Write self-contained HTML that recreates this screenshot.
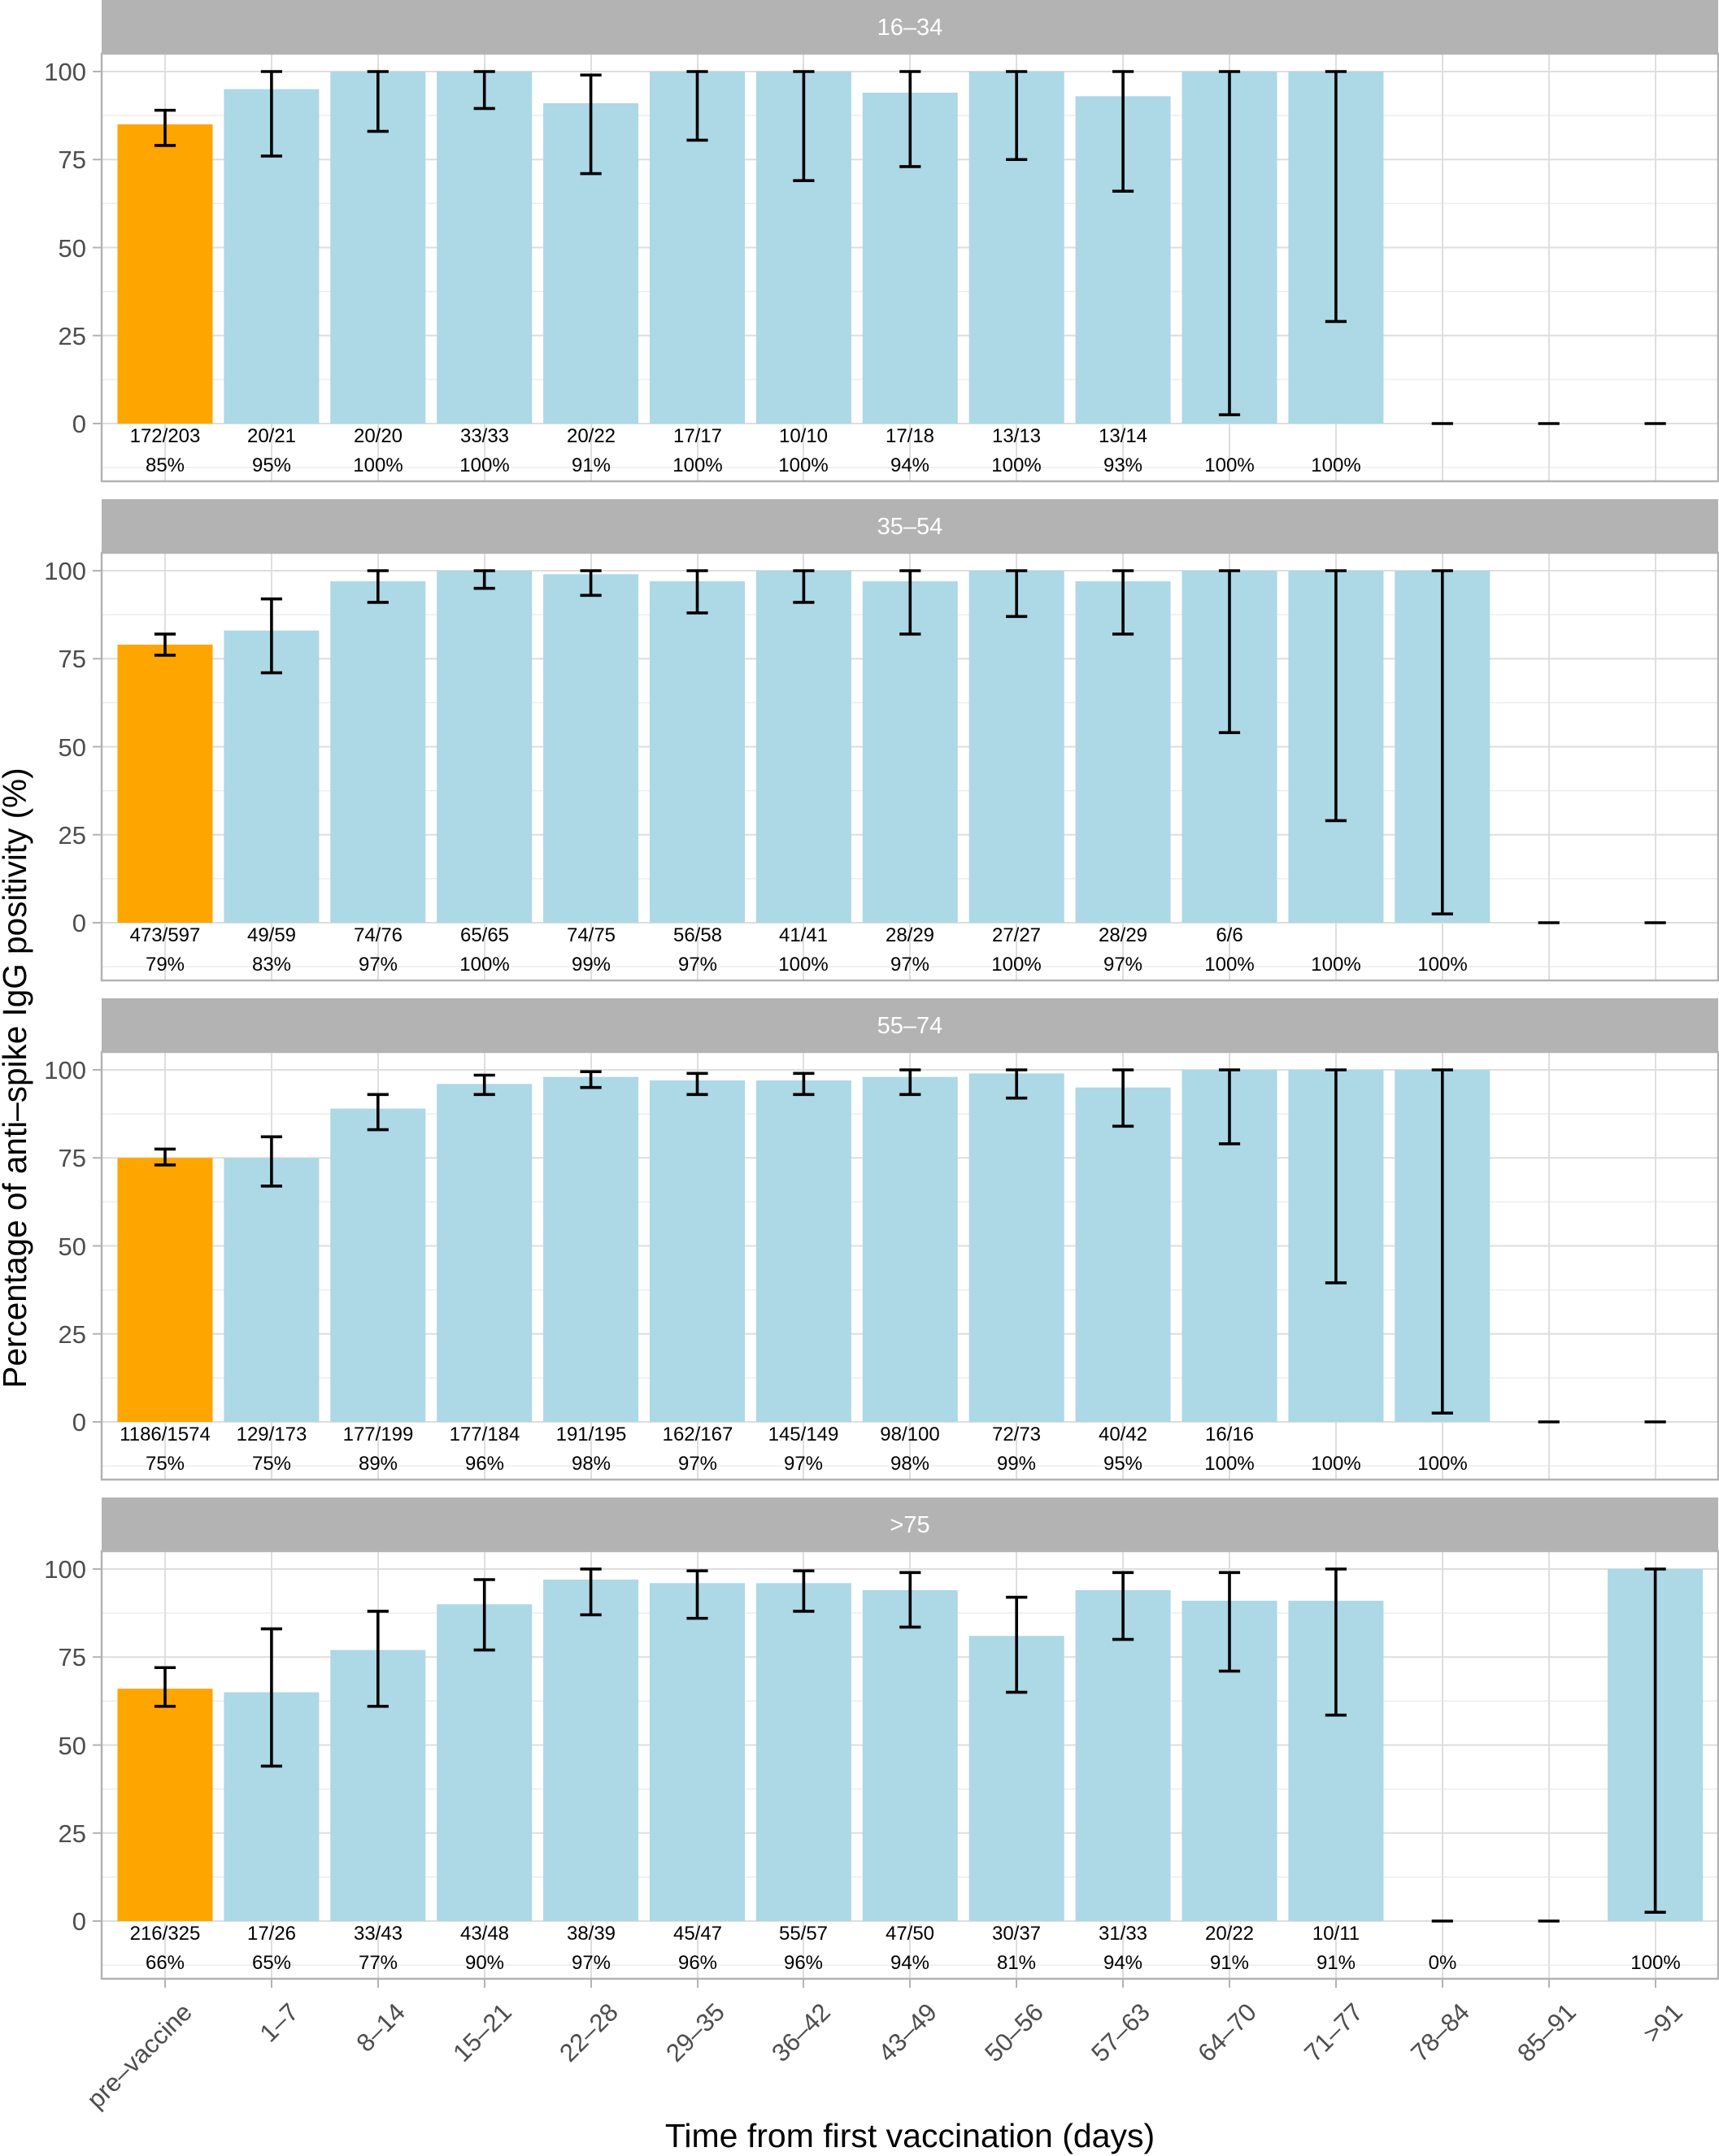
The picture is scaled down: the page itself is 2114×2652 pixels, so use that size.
<!DOCTYPE html>
<html><head><meta charset="utf-8"><style>html,body{margin:0;padding:0;background:#fff}svg{display:block}</style></head><body>
<svg xmlns="http://www.w3.org/2000/svg" width="2114" height="2652" viewBox="0 0 2114 2652" font-family="Liberation Sans, Arial, sans-serif">
<defs>
<g id="frame">
<rect x="125" y="0" width="1988" height="66" fill="#b3b3b3"/>
<rect x="125" y="66" width="1988" height="526" fill="#fff"/>
<g stroke="#ededed" stroke-width="1.5">
<line x1="125" x2="2113" y1="575.1" y2="575.1"/><line x1="125" x2="2113" y1="466.9" y2="466.9"/><line x1="125" x2="2113" y1="358.6" y2="358.6"/><line x1="125" x2="2113" y1="250.4" y2="250.4"/><line x1="125" x2="2113" y1="142.1" y2="142.1"/>
</g>
<g stroke="#dedede" stroke-width="2">
<line x1="125" x2="2113" y1="521" y2="521"/><line x1="125" x2="2113" y1="412.75" y2="412.75"/><line x1="125" x2="2113" y1="304.5" y2="304.5"/><line x1="125" x2="2113" y1="196.25" y2="196.25"/><line x1="125" x2="2113" y1="88" y2="88"/>
<line x1="203" x2="203" y1="66" y2="592"/><line x1="334" x2="334" y1="66" y2="592"/><line x1="465" x2="465" y1="66" y2="592"/><line x1="596" x2="596" y1="66" y2="592"/><line x1="727" x2="727" y1="66" y2="592"/><line x1="858" x2="858" y1="66" y2="592"/><line x1="988" x2="988" y1="66" y2="592"/><line x1="1119" x2="1119" y1="66" y2="592"/><line x1="1250" x2="1250" y1="66" y2="592"/><line x1="1381" x2="1381" y1="66" y2="592"/><line x1="1512" x2="1512" y1="66" y2="592"/><line x1="1643" x2="1643" y1="66" y2="592"/><line x1="1774" x2="1774" y1="66" y2="592"/><line x1="1905" x2="1905" y1="66" y2="592"/><line x1="2036" x2="2036" y1="66" y2="592"/>
</g>
<g stroke="#b3b3b3" stroke-width="2">
<line x1="114" x2="125" y1="521" y2="521"/><line x1="114" x2="125" y1="412.75" y2="412.75"/><line x1="114" x2="125" y1="304.5" y2="304.5"/><line x1="114" x2="125" y1="196.25" y2="196.25"/><line x1="114" x2="125" y1="88" y2="88"/>
</g>
</g>
<g id="border"><rect x="125" y="66" width="1988" height="526" fill="none" stroke="#b3b3b3" stroke-width="2.5"/></g>
</defs>

<!-- Panel 1 -->
<g transform="translate(0,0)">
<use href="#frame"/>
<text x="1119" y="43" fill="#fff" font-size="29" text-anchor="middle">16–34</text>
<g transform="translate(203,521) scale(130.9,-4.33)">
<rect x="-0.447" y="0" width="0.894" height="85" fill="#FFA500"/>
<g fill="#ADD8E6">
<rect x="0.553" width="0.894" height="95"/><rect x="1.553" width="0.894" height="100"/><rect x="2.553" width="0.894" height="100"/><rect x="3.553" width="0.894" height="91"/><rect x="4.553" width="0.894" height="100"/><rect x="5.553" width="0.894" height="100"/><rect x="6.553" width="0.894" height="94"/><rect x="7.553" width="0.894" height="100"/><rect x="8.553" width="0.894" height="93"/><rect x="9.553" width="0.894" height="100"/><rect x="10.553" width="0.894" height="100"/>
</g>
<path fill="none" stroke="#000" stroke-width="3.6" vector-effect="non-scaling-stroke" d="M0 79V89M-0.1 79H0.1M-0.1 89H0.1 M1 76V100M0.9 76H1.1M0.9 100H1.1 M2 83V100M1.9 83H2.1M1.9 100H2.1 M3 89.5V100M2.9 89.5H3.1M2.9 100H3.1 M4 71V99M3.9 71H4.1M3.9 99H4.1 M5 80.5V100M4.9 80.5H5.1M4.9 100H5.1 M6 69V100M5.9 69H6.1M5.9 100H6.1 M7 73V100M6.9 73H7.1M6.9 100H7.1 M8 75V100M7.9 75H8.1M7.9 100H8.1 M9 66V100M8.9 66H9.1M8.9 100H9.1 M10 2.5V100M9.9 2.5H10.1M9.9 100H10.1 M11 29V100M10.9 29H11.1M10.9 100H11.1 M11.9 0H12.1 M12.9 0H13.1 M13.9 0H14.1"/>
</g>
<use href="#border"/>
<g font-size="24" text-anchor="middle" fill="#000">
<text x="203" y="544">172/203</text><text x="334" y="544">20/21</text><text x="465" y="544">20/20</text><text x="596" y="544">33/33</text><text x="727" y="544">20/22</text><text x="858" y="544">17/17</text><text x="988" y="544">10/10</text><text x="1119" y="544">17/18</text><text x="1250" y="544">13/13</text><text x="1381" y="544">13/14</text>
<text x="203" y="580">85%</text><text x="334" y="580">95%</text><text x="465" y="580">100%</text><text x="596" y="580">100%</text><text x="727" y="580">91%</text><text x="858" y="580">100%</text><text x="988" y="580">100%</text><text x="1119" y="580">94%</text><text x="1250" y="580">100%</text><text x="1381" y="580">93%</text><text x="1512" y="580">100%</text><text x="1643" y="580">100%</text>
</g>
<g font-size="31" text-anchor="end" fill="#4d4d4d">
<text x="106" y="532">0</text><text x="106" y="424">25</text><text x="106" y="316">50</text><text x="106" y="207">75</text><text x="106" y="99">100</text>
</g>
</g>

<!-- Panel 2 -->
<g transform="translate(0,614)">
<use href="#frame"/>
<text x="1119" y="43" fill="#fff" font-size="29" text-anchor="middle">35–54</text>
<g transform="translate(203,521) scale(130.9,-4.33)">
<rect x="-0.447" y="0" width="0.894" height="79" fill="#FFA500"/>
<g fill="#ADD8E6">
<rect x="0.553" width="0.894" height="83"/><rect x="1.553" width="0.894" height="97"/><rect x="2.553" width="0.894" height="100"/><rect x="3.553" width="0.894" height="99"/><rect x="4.553" width="0.894" height="97"/><rect x="5.553" width="0.894" height="100"/><rect x="6.553" width="0.894" height="97"/><rect x="7.553" width="0.894" height="100"/><rect x="8.553" width="0.894" height="97"/><rect x="9.553" width="0.894" height="100"/><rect x="10.553" width="0.894" height="100"/><rect x="11.553" width="0.894" height="100"/>
</g>
<path fill="none" stroke="#000" stroke-width="3.6" vector-effect="non-scaling-stroke" d="M0 76V82M-0.1 76H0.1M-0.1 82H0.1 M1 71V92M0.9 71H1.1M0.9 92H1.1 M2 91V100M1.9 91H2.1M1.9 100H2.1 M3 95V100M2.9 95H3.1M2.9 100H3.1 M4 93V100M3.9 93H4.1M3.9 100H4.1 M5 88V100M4.9 88H5.1M4.9 100H5.1 M6 91V100M5.9 91H6.1M5.9 100H6.1 M7 82V100M6.9 82H7.1M6.9 100H7.1 M8 87V100M7.9 87H8.1M7.9 100H8.1 M9 82V100M8.9 82H9.1M8.9 100H9.1 M10 54V100M9.9 54H10.1M9.9 100H10.1 M11 29V100M10.9 29H11.1M10.9 100H11.1 M12 2.5V100M11.9 2.5H12.1M11.9 100H12.1 M12.9 0H13.1 M13.9 0H14.1"/>
</g>
<use href="#border"/>
<g font-size="24" text-anchor="middle" fill="#000">
<text x="203" y="544">473/597</text><text x="334" y="544">49/59</text><text x="465" y="544">74/76</text><text x="596" y="544">65/65</text><text x="727" y="544">74/75</text><text x="858" y="544">56/58</text><text x="988" y="544">41/41</text><text x="1119" y="544">28/29</text><text x="1250" y="544">27/27</text><text x="1381" y="544">28/29</text><text x="1512" y="544">6/6</text>
<text x="203" y="580">79%</text><text x="334" y="580">83%</text><text x="465" y="580">97%</text><text x="596" y="580">100%</text><text x="727" y="580">99%</text><text x="858" y="580">97%</text><text x="988" y="580">100%</text><text x="1119" y="580">97%</text><text x="1250" y="580">100%</text><text x="1381" y="580">97%</text><text x="1512" y="580">100%</text><text x="1643" y="580">100%</text><text x="1774" y="580">100%</text>
</g>
<g font-size="31" text-anchor="end" fill="#4d4d4d">
<text x="106" y="532">0</text><text x="106" y="424">25</text><text x="106" y="316">50</text><text x="106" y="207">75</text><text x="106" y="99">100</text>
</g>
</g>

<!-- Panel 3 -->
<g transform="translate(0,1228)">
<use href="#frame"/>
<text x="1119" y="43" fill="#fff" font-size="29" text-anchor="middle">55–74</text>
<g transform="translate(203,521) scale(130.9,-4.33)">
<rect x="-0.447" y="0" width="0.894" height="75" fill="#FFA500"/>
<g fill="#ADD8E6">
<rect x="0.553" width="0.894" height="75"/><rect x="1.553" width="0.894" height="89"/><rect x="2.553" width="0.894" height="96"/><rect x="3.553" width="0.894" height="98"/><rect x="4.553" width="0.894" height="97"/><rect x="5.553" width="0.894" height="97"/><rect x="6.553" width="0.894" height="98"/><rect x="7.553" width="0.894" height="99"/><rect x="8.553" width="0.894" height="95"/><rect x="9.553" width="0.894" height="100"/><rect x="10.553" width="0.894" height="100"/><rect x="11.553" width="0.894" height="100"/>
</g>
<path fill="none" stroke="#000" stroke-width="3.6" vector-effect="non-scaling-stroke" d="M0 73V77.5M-0.1 73H0.1M-0.1 77.5H0.1 M1 67V81M0.9 67H1.1M0.9 81H1.1 M2 83V93M1.9 83H2.1M1.9 93H2.1 M3 93V98.5M2.9 93H3.1M2.9 98.5H3.1 M4 95V99.5M3.9 95H4.1M3.9 99.5H4.1 M5 93V99M4.9 93H5.1M4.9 99H5.1 M6 93V99M5.9 93H6.1M5.9 99H6.1 M7 93V100M6.9 93H7.1M6.9 100H7.1 M8 92V100M7.9 92H8.1M7.9 100H8.1 M9 84V100M8.9 84H9.1M8.9 100H9.1 M10 79V100M9.9 79H10.1M9.9 100H10.1 M11 39.5V100M10.9 39.5H11.1M10.9 100H11.1 M12 2.5V100M11.9 2.5H12.1M11.9 100H12.1 M12.9 0H13.1 M13.9 0H14.1"/>
</g>
<use href="#border"/>
<g font-size="24" text-anchor="middle" fill="#000">
<text x="203" y="544">1186/1574</text><text x="334" y="544">129/173</text><text x="465" y="544">177/199</text><text x="596" y="544">177/184</text><text x="727" y="544">191/195</text><text x="858" y="544">162/167</text><text x="988" y="544">145/149</text><text x="1119" y="544">98/100</text><text x="1250" y="544">72/73</text><text x="1381" y="544">40/42</text><text x="1512" y="544">16/16</text>
<text x="203" y="580">75%</text><text x="334" y="580">75%</text><text x="465" y="580">89%</text><text x="596" y="580">96%</text><text x="727" y="580">98%</text><text x="858" y="580">97%</text><text x="988" y="580">97%</text><text x="1119" y="580">98%</text><text x="1250" y="580">99%</text><text x="1381" y="580">95%</text><text x="1512" y="580">100%</text><text x="1643" y="580">100%</text><text x="1774" y="580">100%</text>
</g>
<g font-size="31" text-anchor="end" fill="#4d4d4d">
<text x="106" y="532">0</text><text x="106" y="424">25</text><text x="106" y="316">50</text><text x="106" y="207">75</text><text x="106" y="99">100</text>
</g>
</g>

<!-- Panel 4 -->
<g transform="translate(0,1842)">
<use href="#frame"/>
<text x="1119" y="43" fill="#fff" font-size="29" text-anchor="middle">&gt;75</text>
<g transform="translate(203,521) scale(130.9,-4.33)">
<rect x="-0.447" y="0" width="0.894" height="66" fill="#FFA500"/>
<g fill="#ADD8E6">
<rect x="0.553" width="0.894" height="65"/><rect x="1.553" width="0.894" height="77"/><rect x="2.553" width="0.894" height="90"/><rect x="3.553" width="0.894" height="97"/><rect x="4.553" width="0.894" height="96"/><rect x="5.553" width="0.894" height="96"/><rect x="6.553" width="0.894" height="94"/><rect x="7.553" width="0.894" height="81"/><rect x="8.553" width="0.894" height="94"/><rect x="9.553" width="0.894" height="91"/><rect x="10.553" width="0.894" height="91"/><rect x="13.553" width="0.894" height="100"/>
</g>
<path fill="none" stroke="#000" stroke-width="3.6" vector-effect="non-scaling-stroke" d="M0 61V72M-0.1 61H0.1M-0.1 72H0.1 M1 44V83M0.9 44H1.1M0.9 83H1.1 M2 61V88M1.9 61H2.1M1.9 88H2.1 M3 77V97M2.9 77H3.1M2.9 97H3.1 M4 87V100M3.9 87H4.1M3.9 100H4.1 M5 86V99.5M4.9 86H5.1M4.9 99.5H5.1 M6 88V99.5M5.9 88H6.1M5.9 99.5H6.1 M7 83.5V99M6.9 83.5H7.1M6.9 99H7.1 M8 65V92M7.9 65H8.1M7.9 92H8.1 M9 80V99M8.9 80H9.1M8.9 99H9.1 M10 71V99M9.9 71H10.1M9.9 99H10.1 M11 58.5V100M10.9 58.5H11.1M10.9 100H11.1 M11.9 0H12.1 M12.9 0H13.1 M14 2.5V100M13.9 2.5H14.1M13.9 100H14.1"/>
</g>
<use href="#border"/>
<g font-size="24" text-anchor="middle" fill="#000">
<text x="203" y="544">216/325</text><text x="334" y="544">17/26</text><text x="465" y="544">33/43</text><text x="596" y="544">43/48</text><text x="727" y="544">38/39</text><text x="858" y="544">45/47</text><text x="988" y="544">55/57</text><text x="1119" y="544">47/50</text><text x="1250" y="544">30/37</text><text x="1381" y="544">31/33</text><text x="1512" y="544">20/22</text><text x="1643" y="544">10/11</text>
<text x="203" y="580">66%</text><text x="334" y="580">65%</text><text x="465" y="580">77%</text><text x="596" y="580">90%</text><text x="727" y="580">97%</text><text x="858" y="580">96%</text><text x="988" y="580">96%</text><text x="1119" y="580">94%</text><text x="1250" y="580">81%</text><text x="1381" y="580">94%</text><text x="1512" y="580">91%</text><text x="1643" y="580">91%</text><text x="1774" y="580">0%</text><text x="2036" y="580">100%</text>
</g>
<g font-size="31" text-anchor="end" fill="#4d4d4d">
<text x="106" y="532">0</text><text x="106" y="424">25</text><text x="106" y="316">50</text><text x="106" y="207">75</text><text x="106" y="99">100</text>
</g>
<g stroke="#b3b3b3" stroke-width="2">
<line x1="203" x2="203" y1="592" y2="603"/><line x1="334" x2="334" y1="592" y2="603"/><line x1="465" x2="465" y1="592" y2="603"/><line x1="596" x2="596" y1="592" y2="603"/><line x1="727" x2="727" y1="592" y2="603"/><line x1="858" x2="858" y1="592" y2="603"/><line x1="988" x2="988" y1="592" y2="603"/><line x1="1119" x2="1119" y1="592" y2="603"/><line x1="1250" x2="1250" y1="592" y2="603"/><line x1="1381" x2="1381" y1="592" y2="603"/><line x1="1512" x2="1512" y1="592" y2="603"/><line x1="1643" x2="1643" y1="592" y2="603"/><line x1="1774" x2="1774" y1="592" y2="603"/><line x1="1905" x2="1905" y1="592" y2="603"/><line x1="2036" x2="2036" y1="592" y2="603"/>
</g>
</g>

<!-- x tick labels -->
<g font-size="31" text-anchor="end" fill="#4d4d4d">
<text transform="translate(238,2477) rotate(-45)">pre–vaccine</text>
<text transform="translate(369,2477) rotate(-45)">1–7</text>
<text transform="translate(500,2477) rotate(-45)">8–14</text>
<text transform="translate(631,2477) rotate(-45)">15–21</text>
<text transform="translate(762,2477) rotate(-45)">22–28</text>
<text transform="translate(893,2477) rotate(-45)">29–35</text>
<text transform="translate(1023,2477) rotate(-45)">36–42</text>
<text transform="translate(1154,2477) rotate(-45)">43–49</text>
<text transform="translate(1285,2477) rotate(-45)">50–56</text>
<text transform="translate(1416,2477) rotate(-45)">57–63</text>
<text transform="translate(1547,2477) rotate(-45)">64–70</text>
<text transform="translate(1678,2477) rotate(-45)">71–77</text>
<text transform="translate(1809,2477) rotate(-45)">78–84</text>
<text transform="translate(1940,2477) rotate(-45)">85–91</text>
<text transform="translate(2071,2477) rotate(-45)">&gt;91</text>
</g>

<text x="1119" y="2641" font-size="41" text-anchor="middle" fill="#000">Time from first vaccination (days)</text>
<text transform="translate(32,1326) rotate(-90)" font-size="40.5" text-anchor="middle" fill="#000">Percentage of anti–spike IgG positivity (%)</text>
</svg>
</body></html>
